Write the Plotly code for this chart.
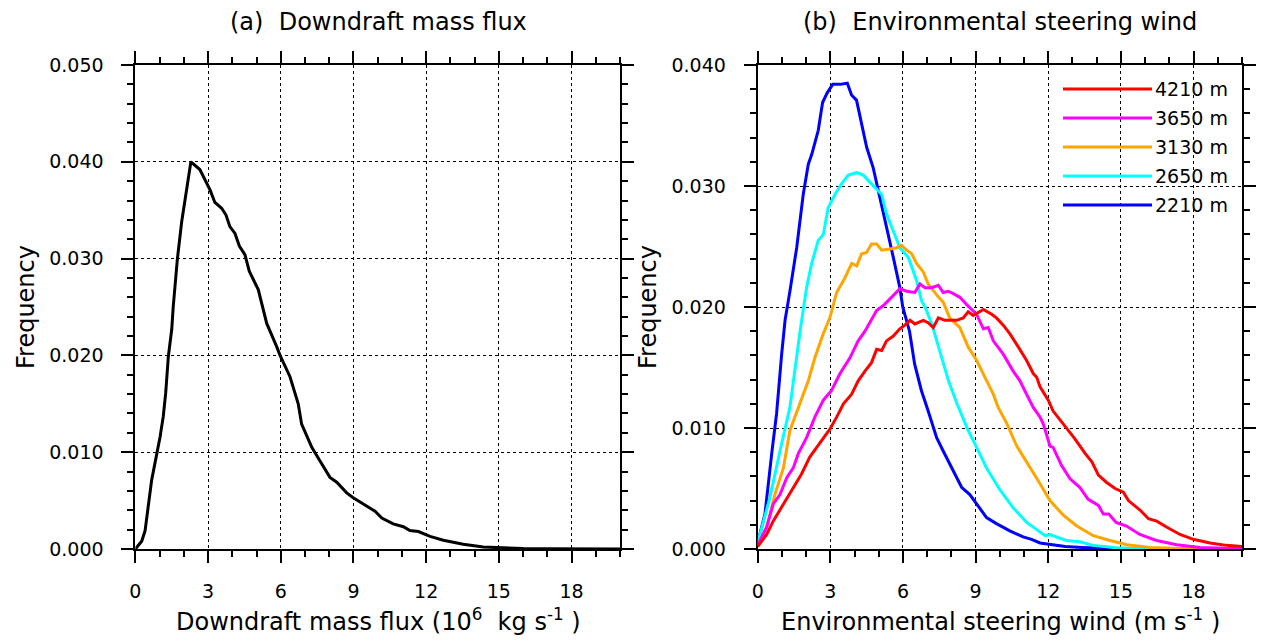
import plotly.graph_objects as go

W, H = 1263, 643

# ---------------- data ----------------
# (a) Downdraft mass flux PDF
flux_x = [0, 0.26, 0.40, 0.53, 0.67, 0.88, 1.02, 1.15, 1.25, 1.36, 1.50, 1.56, 1.73, 1.91,
          2.29, 2.66, 2.91, 3.08, 3.28, 3.56, 3.74, 3.90, 4.11, 4.29, 4.52, 4.70, 5.07, 5.42,
          5.83, 5.97, 6.38, 6.72, 6.86, 7.28, 7.62, 8.03, 8.31, 8.72, 8.99, 9.55, 9.89, 10.17,
          10.64, 11.06, 11.33, 11.68, 12.16, 12.71, 13.53, 14.36, 15.18, 16.0, 17.0, 18.0, 19.0, 20.0]
flux_y = [0.0, 0.0008, 0.0019, 0.0043, 0.0071, 0.0098, 0.0116, 0.0137, 0.0161, 0.0199, 0.0227, 0.0250, 0.0299, 0.0338,
          0.0400, 0.0392, 0.0380, 0.0371, 0.0358, 0.0352, 0.0345, 0.0333, 0.0326, 0.0313, 0.0304, 0.0287, 0.0268, 0.0233,
          0.0209, 0.0200, 0.0178, 0.0150, 0.0129, 0.0105, 0.0091, 0.0074, 0.0069, 0.0058, 0.0053, 0.0044, 0.0039, 0.0032,
          0.0026, 0.0023, 0.0019, 0.0018, 0.0013, 0.0009, 0.0005, 0.0002, 0.0001, 0.00005, 0.00003, 0.00002, 0.00001, 0.00001]

# (b) Environmental steering wind PDFs at several heights
levels = ["4210 m", "3650 m", "3130 m", "2650 m", "2210 m"]
colors = ["#ff0000", "#ff00ff", "#ffa500", "#00ffff", "#0000ff"]

wind_x_4210 = [0, 0.37, 0.64, 1.06, 1.47, 1.81, 2.15, 2.43, 2.98, 3.26, 3.54, 3.88, 4.15, 4.43, 4.70, 4.91,
               5.12, 5.32, 5.60, 5.87, 6.08, 6.29, 6.49, 6.84, 7.04, 7.25, 7.46, 7.73, 8.21, 8.49, 8.69, 8.90,
               9.32, 9.66, 9.86, 10.14, 10.41, 10.76, 11.10, 11.38, 11.52, 11.66, 12.0, 12.2, 12.56, 12.76,
               13.1, 13.52, 13.8, 14.07, 14.41, 14.76, 15.1, 15.31, 15.8, 16.14, 16.48, 16.9, 17.44, 17.99,
               18.68, 19.36, 20.0]
wind_y_4210 = [0.0002, 0.0012, 0.0023, 0.0037, 0.0051, 0.0062, 0.0076, 0.0084, 0.0099, 0.0109, 0.0120, 0.0128, 0.0139, 0.0147, 0.0154, 0.0165,
               0.0164, 0.0172, 0.0176, 0.0182, 0.0185, 0.0189, 0.0186, 0.0189, 0.0187, 0.0183, 0.0191, 0.0189, 0.0189, 0.0191, 0.0196, 0.0193,
               0.0198, 0.0194, 0.0191, 0.0185, 0.0178, 0.0167, 0.0156, 0.0145, 0.0142, 0.0134, 0.0123, 0.0114, 0.0105, 0.0100,
               0.0091, 0.0079, 0.0072, 0.0061, 0.0055, 0.0050, 0.0047, 0.0040, 0.0032, 0.0025, 0.0023, 0.0018, 0.0012, 0.0008,
               0.0005, 0.0003, 0.0002]

wind_x_3650 = [0, 0.37, 0.64, 0.92, 1.20, 1.47, 1.68, 2.02, 2.36, 2.71, 3.05, 3.40, 3.81, 4.15, 4.43, 4.70,
               4.91, 5.18, 5.53, 5.87, 6.15, 6.49, 6.70, 6.91, 7.18, 7.46, 7.66, 7.87, 8.08, 8.35, 8.63, 8.90,
               9.04, 9.32, 9.52, 9.73, 10.14, 10.55, 10.83, 11.10, 11.38, 11.66, 11.80, 12.07, 12.2, 12.55,
               12.9, 13.3, 13.65, 14.07, 14.27, 14.5, 14.8, 15.23, 15.78, 16.47, 17.3, 18.26, 19.2, 20.0]
wind_y_3650 = [0.0003, 0.0018, 0.0037, 0.0045, 0.0059, 0.0067, 0.0079, 0.0092, 0.0109, 0.0123, 0.0131, 0.0145, 0.0158, 0.0172, 0.0180, 0.0189,
               0.0197, 0.0201, 0.0208, 0.0215, 0.0213, 0.0212, 0.0219, 0.0216, 0.0216, 0.0218, 0.0212, 0.0213, 0.0211, 0.0208, 0.0202, 0.0197,
               0.0194, 0.0182, 0.0183, 0.0172, 0.0161, 0.0147, 0.0139, 0.0128, 0.0117, 0.0109, 0.0103, 0.0085, 0.0084, 0.0069,
               0.0058, 0.0051, 0.0041, 0.0036, 0.0029, 0.0029, 0.0022, 0.0019, 0.0012, 0.0007, 0.00035, 0.00013, 0.00005, 0.00002]

wind_x_3130 = [0, 0.37, 0.71, 1.06, 1.33, 1.68, 2.09, 2.36, 2.71, 2.98, 3.26, 3.60, 3.88, 4.09, 4.29, 4.50,
               4.70, 4.91, 5.12, 5.46, 5.74, 5.94, 6.15, 6.36, 6.56, 6.84, 7.04, 7.39, 7.66, 7.93, 8.35, 8.69,
               9.04, 9.38, 9.73, 9.93, 10.28, 10.70, 11.11, 11.39, 11.66, 12.07, 12.62, 13.18, 13.86, 14.55,
               15.24, 16.2, 17.5, 20.0]
wind_y_3130 = [0.0003, 0.0018, 0.0045, 0.0067, 0.0098, 0.0117, 0.0139, 0.0158, 0.0178, 0.0191, 0.0212, 0.0224, 0.0236, 0.0234, 0.0244, 0.0245,
               0.0252, 0.0252, 0.0247, 0.0248, 0.0249, 0.0251, 0.0247, 0.0244, 0.0236, 0.0229, 0.0219, 0.0210, 0.0204, 0.0191, 0.0183, 0.0167,
               0.0156, 0.0142, 0.0128, 0.0117, 0.0104, 0.0085, 0.0072, 0.0062, 0.0054, 0.0040, 0.0028, 0.0019, 0.0011, 0.0007,
               0.00035, 0.00013, 0.00004, 0.0]

wind_x_2650 = [0, 0.51, 0.92, 1.33, 1.75, 2.02, 2.23, 2.50, 2.71, 2.91, 3.19, 3.47, 3.74, 4.09, 4.36, 4.70,
               4.91, 5.12, 5.32, 5.60, 5.87, 6.22, 6.56, 6.77, 6.91, 7.19, 7.47, 7.88, 8.23, 8.69, 9.04, 9.45,
               10.0, 10.55, 11.11, 11.58, 11.87, 12.06, 12.75, 13.3, 13.85, 14.8, 16.0, 18.0, 20.0]
wind_y_2650 = [0.0005, 0.0043, 0.0081, 0.0117, 0.0180, 0.0216, 0.0236, 0.0255, 0.0260, 0.0282, 0.0293, 0.0302, 0.0309, 0.0311, 0.0309, 0.0302,
               0.0298, 0.0293, 0.0277, 0.0263, 0.0249, 0.0241, 0.0222, 0.0205, 0.0200, 0.0186, 0.0167, 0.0139, 0.0120, 0.0098, 0.0084, 0.0067,
               0.0049, 0.0034, 0.0022, 0.0015, 0.0011, 0.0012, 0.0007, 0.0006, 0.0003, 0.0001, 0.00003, 0.00001, 0.0]

wind_x_2210 = [0, 0.30, 0.58, 0.78, 0.99, 1.13, 1.33, 1.61, 1.88, 2.09, 2.23, 2.50, 2.68, 2.87, 3.10, 3.40,
               3.70, 3.88, 4.08, 4.25, 4.50, 4.77, 5.05, 5.32, 5.60, 5.87, 5.99, 6.27, 6.48, 6.76, 7.04, 7.39,
               7.66, 8.08, 8.42, 8.76, 9.04, 9.45, 9.86, 10.41, 10.96, 11.31, 11.66, 12.06, 12.7, 13.4,
               14.5, 16.0, 18.0, 20.0]
wind_y_2210 = [0.0005, 0.0029, 0.0079, 0.0112, 0.0161, 0.0189, 0.0213, 0.0249, 0.0293, 0.0318, 0.0326, 0.0346, 0.0369, 0.0377, 0.0384, 0.0384,
               0.0385, 0.0375, 0.0371, 0.0354, 0.0332, 0.0315, 0.0291, 0.0266, 0.0241, 0.0216, 0.0200, 0.0180, 0.0153, 0.0131, 0.0114, 0.0092,
               0.0081, 0.0065, 0.0051, 0.0045, 0.0037, 0.0026, 0.0021, 0.0015, 0.0010, 0.0008, 0.0005, 0.0004, 0.0002, 0.00013,
               0.00005, 0.00002, 0.0, 0.0]

wind_x = [wind_x_4210, wind_x_3650, wind_x_3130, wind_x_2650, wind_x_2210]
wind_y = [wind_y_4210, wind_y_3650, wind_y_3130, wind_y_2650, wind_y_2210]

x_ticks = [0, 3, 6, 9, 12, 15, 18]
y_ticks_a = [0.0, 0.01, 0.02, 0.03, 0.04, 0.05]
y_ticks_b = [0.0, 0.01, 0.02, 0.03, 0.04]

# ---------------- figure ----------------
FONT = "DejaVu Sans, Liberation Sans, Arial, sans-serif"
TICK_SIZE = 19
TITLE_SIZE = 24
fig = go.Figure()

fig.add_trace(go.Scatter(x=flux_x, y=flux_y, mode="lines", line=dict(color="black", width=3),
                         xaxis="x", yaxis="y", showlegend=False))
for i in range(len(levels) - 1, -1, -1):
    fig.add_trace(go.Scatter(x=wind_x[i], y=wind_y[i], mode="lines", name=levels[i],
                             line=dict(color=colors[i], width=3),
                             xaxis="x2", yaxis="y2", showlegend=False))


def px_x(p):
    return p / W


def px_y(p):
    return 1 - p / H


plot_top, plot_bot = 65, 549
ydom = [px_y(plot_bot), px_y(plot_top)]

common_axis = dict(
    showline=True, linewidth=2, linecolor="black", mirror="allticks",
    ticks="outside", ticklen=12, tickwidth=1.5, tickcolor="black",
    showgrid=True, gridcolor="black", gridwidth=1, griddash="dot",
    zeroline=False, tickfont=dict(family=FONT, size=TICK_SIZE, color="black"),
    layer="below traces", automargin=False,
)
minor_x = dict(dtick=1, tick0=0, ticks="outside", ticklen=6, tickwidth=1.5,
               tickcolor="black", showgrid=False)
minor_y = dict(dtick=0.002, tick0=0, ticks="outside", ticklen=6, tickwidth=1.5,
               tickcolor="black", showgrid=False)

fig.update_layout(
    width=W, height=H, margin=dict(l=0, r=0, t=0, b=0, pad=0, autoexpand=False),
    paper_bgcolor="white", plot_bgcolor="white",
    font=dict(family=FONT, color="black"),
    showlegend=False,
    xaxis=dict(domain=[px_x(135.4), px_x(620)], range=[0, 20], tickvals=x_ticks,
               ticklabelstandoff=12, minor=minor_x, anchor="y", **common_axis),
    yaxis=dict(domain=ydom, range=[0, 0.05], tickvals=y_ticks_a, tickformat=".3f",
               ticklabelstandoff=14, minor=minor_y, anchor="x", **common_axis),
    xaxis2=dict(domain=[px_x(757.7), px_x(1242)], range=[0, 20], tickvals=x_ticks,
                ticklabelstandoff=12, minor=minor_x, anchor="y2", **common_axis),
    yaxis2=dict(domain=ydom, range=[0, 0.04], tickvals=y_ticks_b, tickformat=".3f",
                ticklabelstandoff=14, minor=minor_y, anchor="x2", **common_axis),
)

ann = []
ann.append(dict(text="(a)  Downdraft mass flux", x=px_x(378), y=px_y(22), xref="paper", yref="paper",
                showarrow=False, font=dict(size=TITLE_SIZE, family=FONT), xanchor="center", yanchor="middle"))
ann.append(dict(text="(b)  Environmental steering wind", x=px_x(1000), y=px_y(22), xref="paper", yref="paper",
                showarrow=False, font=dict(size=TITLE_SIZE, family=FONT), xanchor="center", yanchor="middle"))
ann.append(dict(text="Downdraft mass flux (10<sup>6</sup>  kg s<sup>-1</sup> )", x=px_x(378), y=px_y(620),
                xref="paper", yref="paper", showarrow=False, font=dict(size=TITLE_SIZE, family=FONT),
                xanchor="center", yanchor="middle"))
ann.append(dict(text="Environmental steering wind (m s<sup>-1</sup> )", x=px_x(1000), y=px_y(620),
                xref="paper", yref="paper", showarrow=False, font=dict(size=TITLE_SIZE, family=FONT),
                xanchor="center", yanchor="middle"))
for xp in (26, 648):
    ann.append(dict(text="Frequency", x=px_x(xp), y=px_y(307), xref="paper", yref="paper",
                    showarrow=False, textangle=-90, font=dict(size=TITLE_SIZE, family=FONT),
                    xanchor="center", yanchor="middle"))

# NCL-style legend with long line samples
shapes = []
leg_y = [89, 118, 147, 176, 205]
for i, lab in enumerate(levels):
    shapes.append(dict(type="line", xref="paper", yref="paper",
                       x0=px_x(1063), x1=px_x(1152), y0=px_y(leg_y[i]), y1=px_y(leg_y[i]),
                       line=dict(color=colors[i], width=3)))
    ann.append(dict(text=lab, x=px_x(1153), y=px_y(leg_y[i]), xref="paper", yref="paper",
                    showarrow=False, font=dict(size=TICK_SIZE, family=FONT),
                    xanchor="left", yanchor="middle"))

fig.update_layout(annotations=ann, shapes=shapes)
fig.write_html("out.html")
